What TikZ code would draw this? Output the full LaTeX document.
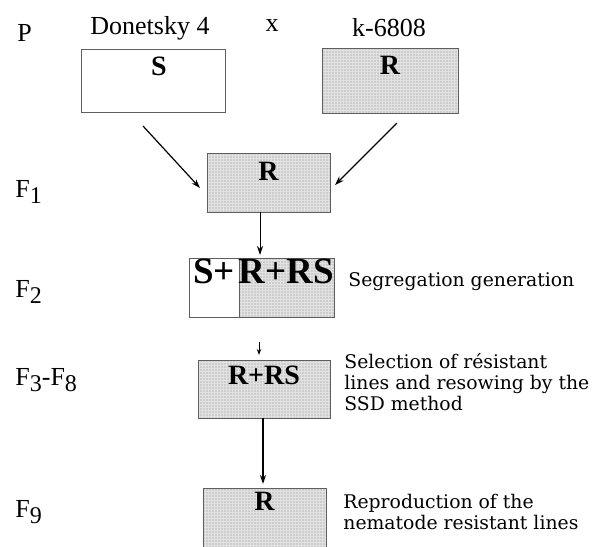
\documentclass[tikz,border=0pt]{standalone}
\usepackage{fontspec}
\setmainfont{Liberation Serif}
\newfontfamily\notefont{DejaVu Serif}
\usepackage{tikz}
\usetikzlibrary{arrows.meta, positioning, calc, patterns.meta}
\usepackage{xcolor}
\definecolor{BoxLine}{HTML}{5E5E5E}
\definecolor{DotGray}{HTML}{8A8A8A}
\definecolor{PaleFill}{HTML}{E2E2E2}
\newcommand{\gsub}[1]{\raisebox{-0.45ex}{\fontsize{12}{12}\selectfont #1}}

\begin{document}
\begin{tikzpicture}[x=0.5pt, y=-0.5pt,
    block/.style={draw=BoxLine, line width=0.5pt, inner sep=0pt, outer sep=0pt},
    dotblock/.style={block, preaction={fill=PaleFill},
        pattern={Dots[distance=1.5pt, radius=0.3pt]}, pattern color=DotGray},
    lbl/.style={inner sep=0pt, font=\fontsize{14}{16}\selectfont\bfseries},
    biglbl/.style={inner sep=0pt, font=\fontsize{18.5}{20}\selectfont\bfseries},
    gen/.style={anchor=west, inner sep=0pt, font=\fontsize{13}{15}\selectfont},
    parent/.style={inner sep=0pt, font=\fontsize{13}{15}\selectfont},
    note/.style={anchor=west, inner sep=0pt, align=left,
        font=\notefont\fontsize{9.4}{10.5}\selectfont},
    arr/.style={-{Stealth[length=4.5pt, width=3pt]}, line width=0.6pt}
]
\useasboundingbox (0,0) rectangle (596,547);

% parents
\node[gen] (genP) at (17,33) {P};
\node[parent] (nameS) at (150,28) {Donetsky 4};
\node[parent] (cross) at (272,26) {x};
\node[parent] (nameR) at (389,28) {k-6808};

\node[block, minimum width=72pt, minimum height=31.5pt] (donS) at (153,80.5) {};
\node[dotblock, minimum width=68pt, minimum height=32.5pt] (donR) at (390,80.5) {};
\node[lbl, below=4pt, xshift=3pt] (donSlbl) at (donS.north) {S};
\node[lbl, below=4pt] (donRlbl) at (donR.north) {R};

% F1
\node[gen] (genF1) at (15,192) {F\gsub{1}};
\node[dotblock, minimum width=61.5pt, minimum height=29.5pt] (f1) at (268.5,182.5) {};
\node[lbl, below=4.5pt] (f1lbl) at (f1.north) {R};

\draw[arr] ($(donS.south)+(-10,14)$) -- ($(f1.west)+(-7,5.5)$);
\draw[arr] ($(donR.south)+(7,10)$) -- ($(f1.east)+(5,2.5)$);

% F2
\node[gen] (genF2) at (15,292) {F\gsub{2}};
\node[block, fill=white, minimum width=25pt, minimum height=29.5pt] (f2s) at (214,287.5) {};
\node[dotblock, minimum width=47.5pt, minimum height=29.5pt, right=0pt of f2s] (f2r) {};
\node[biglbl, below=0.5pt] (f2slbl) at (f2s.north) {S+};
\node[biglbl, below=0.5pt] (f2rlbl) at (f2r.north) {R+RS};
\node[note] (segNote) at (348,282) {Segregation generation};

\draw[arr, line width=0.5pt] ($(f1.south)+(-8.5,0)$) -- ($(f2r.north)+(-26.5,-3)$);

% F3-F8
\node[gen] (genF3) at (15,380) {F\gsub{3}-F\gsub{8}};
\node[dotblock, minimum width=66pt, minimum height=29pt] (f38) at (264,389) {};
\node[lbl, below=3pt] (f38lbl) at (f38.north) {R+RS};
\coordinate (stub) at ($(f38.north)+(-5,-18)$);
\draw[arr, line width=0.5pt, -{Stealth[length=3pt, width=2.2pt]}] (stub) -- ($(f38.north)+(-5,-5)$);
\node[note, anchor=north west] (selNote) at (344,353)
    {Selection of résistant\\lines and resowing by the\\SSD method};

% F9
\node[gen] (genF9) at (15,512) {F\gsub{9}};
\node[dotblock, minimum width=61.5pt, minimum height=29.5pt] (f9) at (264.5,517.5) {};
\node[lbl, below=2pt] (f9lbl) at (f9.north) {R};
\node[note, anchor=north west] (repNote) at (343,494)
    {Reproduction of the\\nematode resistant lines};

\draw[arr, line width=0.9pt] ($(f38.south)+(-1,0)$) -- ($(f9.north)+(-1.5,-4)$);

\end{tikzpicture}
\end{document}
